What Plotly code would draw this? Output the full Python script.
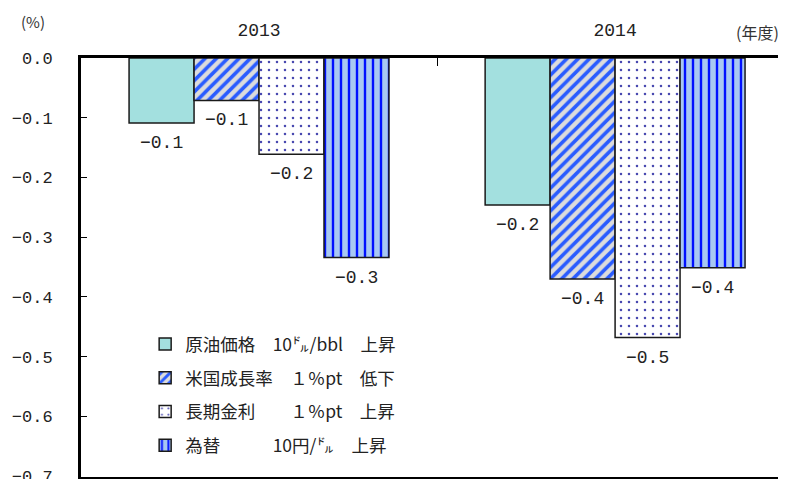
import plotly.graph_objects as go

years = ["2013", "2014"]
series_names = [
    "原油価格　10㌦/bbl　上昇",
    "米国成長率　１％pt　低下",
    "長期金利　　１％pt　上昇",
    "為替　　　10円/㌦　上昇",
]
oil = [-0.109, -0.246]
us_growth = [-0.071, -0.370]
long_rate = [-0.161, -0.468]
fx = [-0.334, -0.351]
y_ticks = [0.0, -0.1, -0.2, -0.3, -0.4, -0.5, -0.6, -0.7]

series_values = [oil, us_growth, long_rate, fx]

NUM_FONT = "Liberation Mono, Noto Sans CJK JP, monospace"
CJK_FONT = "Noto Sans CJK JP, Liberation Serif, serif"

styles = [
    dict(color="#A3E0DF", pattern=dict(shape="")),
    dict(color="#DCDCDC", pattern=dict(shape="/", fgcolor="#2A5CFF", bgcolor="#DCDCDC",
                                       fgopacity=1, size=8, solidity=0.45)),
    dict(color="white", pattern=dict(shape=".", fgcolor="#4848B0", bgcolor="white",
                                     fgopacity=1, size=8, solidity=0.08)),
    dict(color="#A8C8F2", pattern=dict(shape="|", fgcolor="#0010FF", bgcolor="#A8C8F2",
                                       fgopacity=1, size=8, solidity=0.3)),
]

bargap = 0.27
fig = go.Figure()
for name, vals, st in zip(series_names, series_values, styles):
    fig.add_trace(go.Bar(
        x=years, y=vals, name=name,
        marker=dict(color=st["color"], pattern=st["pattern"],
                    line=dict(color="#1a1a1a", width=1.5)),
        legendgroup=name,
    ))

# value labels under bars
bw = (1 - bargap) / len(series_values)
annotations = []
for j, vals in enumerate(series_values):
    for i, v in enumerate(vals):
        annotations.append(dict(
            x=i + (j - (len(series_values) - 1) / 2) * bw, y=v, xref="x", yref="y",
            text=f"{round(v, 1):.1f}".replace("-", "−"), showarrow=False,
            yshift=-20, font=dict(family=NUM_FONT, size=18, color="#222"),
        ))

annotations.append(dict(x=-0.068, y=1.086, xref="paper", yref="paper", text="(%)",
                        xanchor="center", yanchor="middle",
                        showarrow=False, font=dict(family=CJK_FONT, size=15, color="#333")))
annotations.append(dict(x=0.96, y=1.062, xref="paper", yref="paper", text="(年度)",
                        xanchor="center", yanchor="middle",
                        showarrow=False, font=dict(family=CJK_FONT, size=16, color="#333")))

# the page body has an 8px margin, so the figure is sized to fit the window
fig.update_layout(
    width=778, height=471,
    margin=dict(l=73, r=0, t=50, b=2, autoexpand=False),
    paper_bgcolor="white", plot_bgcolor="white",
    barmode="group", bargap=bargap, bargroupgap=0,
    showlegend=True,
    legend=dict(x=0.091, y=0.36, xanchor="left", yanchor="top",
                font=dict(family=CJK_FONT, size=17.5, color="#222"),
                bgcolor="rgba(0,0,0,0)", traceorder="grouped", tracegroupgap=8,
                itemwidth=30),
    annotations=annotations,
    xaxis=dict(side="top", type="category", range=[-0.5, 1.48],
               showline=True, linecolor="black", linewidth=3, mirror=True,
               ticks="inside", tickson="boundaries", ticklen=8, tickcolor="black",
               ticklabelstandoff=12,
               showgrid=False, zeroline=False,
               tickfont=dict(family=NUM_FONT, size=18, color="#222")),
    yaxis=dict(range=[-0.7015, 0.0], tickvals=y_ticks, tickformat=".1f",
               showline=True, linecolor="black", linewidth=3,
               ticks="inside", ticklen=6, tickcolor="black",
               ticklabelstandoff=22, ticklabeloverflow="allow",
               showgrid=False, zeroline=False,
               tickfont=dict(family=NUM_FONT, size=17, color="#222")),
)

fig.write_html("out.html")
